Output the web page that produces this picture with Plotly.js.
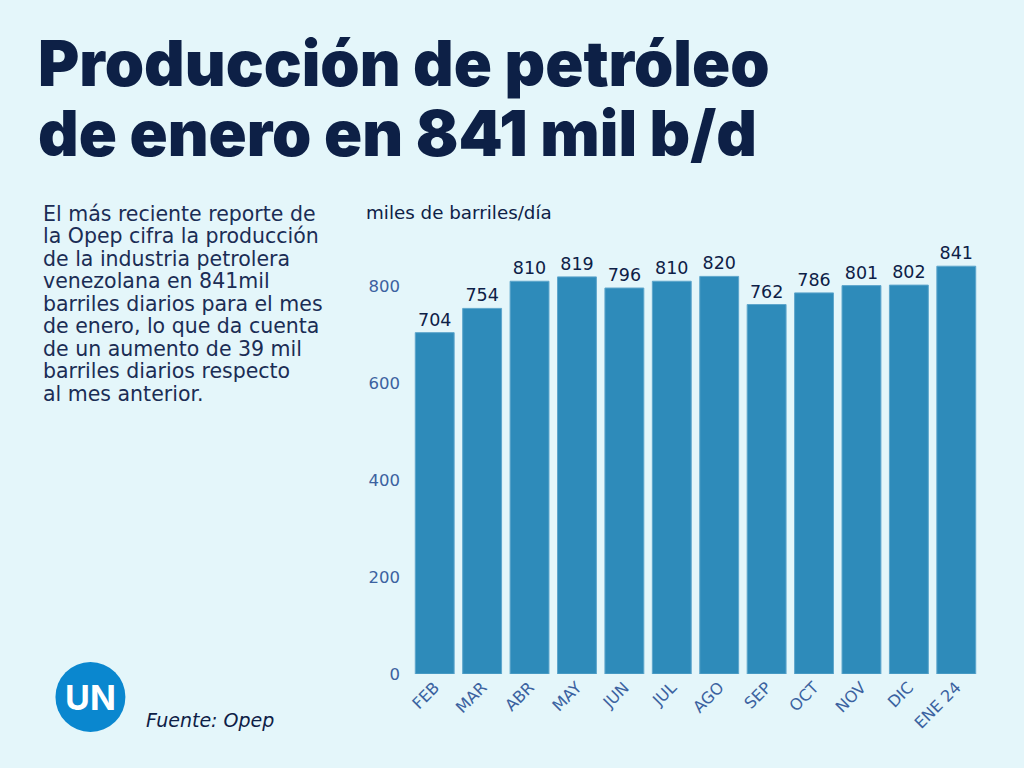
<!DOCTYPE html>
<html><head><meta charset="utf-8">
<script src="https://cdn.plot.ly/plotly-3.0.1.min.js"></script>
<style>html,body{margin:0;padding:0;background:#e4f6fa;}#chart{width:1024px;height:768px;}</style>
</head><body><div id="chart"></div>
<script>
const categories = ["FEB","MAR","ABR","MAY","JUN","JUL","AGO","SEP","OCT","NOV","DIC","ENE 24"];
const values = [704,754,810,819,796,810,820,762,786,801,802,841];
const tickValues = [0,200,400,600,800];
const titleLines = ["Producción de petróleo","de enero en 841 mil b/d"];
const bodyLines = ["El más reciente reporte de","la Opep cifra la producción","de la industria petrolera","venezolana en 841mil","barriles diarios para el mes","de enero, lo que da cuenta","de un aumento de 39 mil","barriles diarios respecto","al mes anterior."];
const unitLabel = "miles de barriles/día";
const sourceLabel = "Fuente: Opep";

const navy = "#0d2046";
const tickBlue = "#3b62a0";
const L = 410.8, W = 569.4, B = 674, H = 417;
const px = x => (x - L) / W;
const py = y => (B - y) / H;

const annotations = [];
titleLines.forEach((t,i)=>annotations.push({
  text:t, xref:"paper", yref:"paper", x:px(36), y:py(103+i*70),
  xanchor:"left", yanchor:"bottom", showarrow:false,
  font:{family:"Inter", size:63, color:navy, weight:900}
}));
annotations.push({
  text:bodyLines.map(s=>'<span style="font-size:20.5px">'+s+'</span>').join("<br>"),
  xref:"paper", yref:"paper", x:px(41), y:py(200),
  xanchor:"left", yanchor:"top", align:"left", showarrow:false,
  font:{family:"DejaVu Sans", size:17.3, color:"#1b2d55"}
});
annotations.push({text:unitLabel, xref:"paper", yref:"paper", x:px(364), y:py(212),
  xanchor:"left", yanchor:"middle", showarrow:false, font:{family:"DejaVu Sans", size:18.3, color:navy}});
annotations.push({text:"<i>"+sourceLabel+"</i>", xref:"paper", yref:"paper", x:px(144), y:py(720),
  xanchor:"left", yanchor:"middle", showarrow:false, font:{family:"DejaVu Sans", size:19, color:navy}});
annotations.push({text:"<b>UN</b>", xref:"paper", yref:"paper", x:px(90), y:py(697),
  xanchor:"center", yanchor:"middle", showarrow:false, font:{family:"Inter", size:34, color:"#ffffff", weight:900}});

const trace = {
  type:"bar", x:categories, y:values,
  marker:{color:"#2e8bba", line:{color:"#5ea6cc", width:1}},
  text:values.map(String), textposition:"outside", cliponaxis:false,
  textfont:{family:"DejaVu Sans", size:17.5, color:navy},
  hoverinfo:"skip"
};
const layout = {
  width:1024, height:768,
  paper_bgcolor:"#e4f6fa", plot_bgcolor:"#e4f6fa",
  margin:{l:L, r:1024-L-W, t:B-H, b:768-B, pad:0},
  bargap:0.18,
  showlegend:false,
  xaxis:{type:"category", tickangle:-45, tickfont:{family:"DejaVu Sans", size:16, color:tickBlue},
    showgrid:false, zeroline:false, showline:false, ticks:"", ticklen:0},
  yaxis:{range:[0,860], tickvals:tickValues, ticktext:tickValues.map(String),
    tickfont:{family:"DejaVu Sans", size:16.5, color:tickBlue}, showgrid:false, zeroline:false, showline:false, ticks:"", ticklabelstandoff:10},
  shapes:[{type:"circle", xref:"paper", yref:"paper",
    x0:px(55), x1:px(125), y0:py(732), y1:py(662),
    fillcolor:"#0a87cf", line:{width:0}}],
  annotations:annotations
};
Plotly.newPlot("chart",[trace],layout,{displayModeBar:false,staticPlot:true});
</script></body></html>
